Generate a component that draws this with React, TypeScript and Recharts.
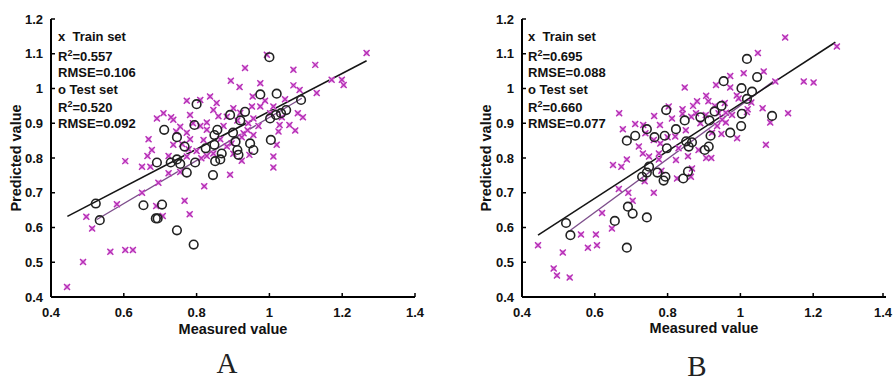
import { ScatterChart, Scatter, XAxis, YAxis, ReferenceLine } from 'recharts';

// measured vs predicted, panel A
const trainA = [
  [1.267, 1.102], [1.126, 1.068], [1.199, 1.025], [1.204, 1.01], [1.171, 1.025], [1.13, 0.987],
  [1.066, 1.054], [1.066, 1.009], [1.083, 0.996], [1.092, 0.917], [1.078, 0.929], [1.071, 0.879],
  [1.055, 0.895], [1.043, 0.969], [0.993, 1.097], [0.933, 1.059], [0.894, 1.022], [0.918, 1.004],
  [0.975, 1.015], [0.954, 0.977], [0.988, 0.965], [0.837, 0.977], [0.81, 0.967], [0.773, 0.965],
  [0.855, 0.958], [0.952, 0.948], [0.975, 0.948], [0.901, 0.943], [0.846, 0.938], [0.782, 0.924],
  [0.691, 0.914], [0.709, 0.929], [0.73, 0.917], [0.736, 0.91], [0.755, 0.89], [0.744, 0.876],
  [0.773, 0.873], [0.81, 0.892], [0.828, 0.902], [0.828, 0.881], [0.874, 0.892], [0.883, 0.919],
  [0.912, 0.908], [0.942, 0.9], [0.956, 0.914], [0.97, 0.892], [0.929, 0.871], [0.956, 0.866],
  [0.924, 0.86], [0.896, 0.842], [0.883, 0.833], [0.865, 0.854], [0.819, 0.852], [0.782, 0.854],
  [0.736, 0.838], [0.778, 0.825], [0.828, 0.806], [0.846, 0.813], [0.901, 0.812], [0.945, 0.809],
  [0.924, 0.792], [0.813, 0.799], [0.773, 0.804], [0.723, 0.806], [0.665, 0.806], [0.677, 0.823],
  [0.668, 0.854], [0.604, 0.791], [0.65, 0.775], [0.673, 0.775], [0.723, 0.756], [0.755, 0.76],
  [0.695, 0.729], [0.65, 0.7], [0.892, 0.752], [0.821, 0.719], [0.767, 0.677], [0.781, 0.638],
  [0.689, 0.662], [0.707, 0.633], [0.581, 0.667], [0.497, 0.631], [0.513, 0.597], [0.563, 0.53],
  [0.604, 0.535], [0.625, 0.535], [0.488, 0.501], [0.444, 0.429], [1.011, 0.804], [1.011, 0.773],
  [1.02, 0.838], [1.025, 0.876], [1.028, 0.895], [1.034, 0.917], [1.002, 0.929], [1.011, 0.948],
  [0.76, 0.84], [0.79, 0.9], [0.86, 0.92], [0.92, 0.93], [0.94, 0.88], [0.8, 0.82],
].map(([x, y]) => ({ x, y }));

const testA = [
  [1.0, 1.09], [1.02, 0.985], [0.975, 0.983], [1.087, 0.967], [0.8, 0.955], [0.933, 0.933],
  [1.046, 0.938], [1.032, 0.929], [1.018, 0.924], [1.002, 0.914], [0.892, 0.924], [0.92, 0.908],
  [0.794, 0.895], [0.711, 0.881], [0.857, 0.881], [0.746, 0.86], [0.849, 0.866], [0.9, 0.873],
  [0.907, 0.847], [0.947, 0.842], [0.767, 0.833], [0.849, 0.838], [0.825, 0.828], [0.912, 0.823],
  [0.956, 0.823], [1.004, 0.852], [0.869, 0.813], [0.915, 0.809], [0.851, 0.791], [0.865, 0.796],
  [0.796, 0.787], [0.691, 0.787], [0.729, 0.787], [0.755, 0.783], [0.746, 0.796], [0.773, 0.758],
  [0.845, 0.751], [0.523, 0.669], [0.654, 0.664], [0.705, 0.666], [0.688, 0.626], [0.693, 0.626],
  [0.534, 0.621], [0.746, 0.592], [0.792, 0.551],
].map(([x, y]) => ({ x, y }));

// panel B
const trainB = [
  [1.123, 1.147], [1.048, 1.102], [1.265, 1.121], [1.174, 1.02], [1.201, 1.017], [1.096, 1.02],
  [1.064, 1.049], [1.009, 1.044], [0.972, 1.036], [0.933, 1.01], [0.847, 1.003], [1.131, 0.929],
  [1.082, 0.902], [1.07, 0.838], [1.061, 0.943], [1.018, 0.932], [0.991, 0.857], [0.995, 0.971],
  [0.972, 1.003], [0.906, 0.979], [0.912, 0.963], [0.881, 0.963], [0.957, 0.958], [0.878, 0.929],
  [0.841, 0.94], [0.803, 0.948], [0.812, 0.914], [0.841, 0.927], [0.865, 0.919], [0.905, 0.924],
  [0.94, 0.929], [0.977, 0.924], [0.96, 0.902], [0.936, 0.892], [0.922, 0.873], [0.948, 0.869],
  [0.667, 0.929], [0.711, 0.898], [0.733, 0.895], [0.763, 0.921], [0.779, 0.895], [0.739, 0.871],
  [0.762, 0.852], [0.78, 0.842], [0.721, 0.833], [0.732, 0.813], [0.749, 0.804], [0.776, 0.813],
  [0.776, 0.796], [0.821, 0.862], [0.83, 0.828], [0.823, 0.794], [0.856, 0.805], [0.885, 0.823],
  [0.906, 0.8], [0.92, 0.8], [0.688, 0.796], [0.673, 0.775], [0.65, 0.78], [0.677, 0.883],
  [0.783, 0.763], [0.867, 0.77], [0.826, 0.741], [0.864, 0.746], [0.737, 0.733], [0.666, 0.711],
  [0.692, 0.7], [0.762, 0.7], [0.704, 0.677], [0.62, 0.642], [0.647, 0.597], [0.562, 0.58],
  [0.603, 0.58], [0.606, 0.549], [0.581, 0.542], [0.444, 0.549], [0.512, 0.528], [0.487, 0.482],
  [0.496, 0.462], [0.531, 0.456], [0.93, 0.95], [0.96, 0.93], [0.89, 0.9], [0.85, 0.88],
  [0.8, 0.86], [0.87, 0.95], [0.99, 0.98], [1.03, 0.96], [1.02, 0.94], [0.95, 0.91],
].map(([x, y]) => ({ x, y }));

const testB = [
  [1.018, 1.085], [1.046, 1.033], [0.954, 1.021], [1.003, 1.001], [1.032, 0.991], [1.018, 0.97],
  [0.948, 0.95], [0.929, 0.934], [0.796, 0.938], [0.89, 0.917], [0.915, 0.908], [1.004, 0.927],
  [1.002, 0.892], [1.087, 0.921], [0.972, 0.873], [0.847, 0.908], [0.823, 0.883], [0.743, 0.883],
  [0.711, 0.864], [0.764, 0.86], [0.792, 0.864], [0.688, 0.85], [0.851, 0.848], [0.867, 0.845],
  [0.858, 0.833], [0.798, 0.828], [0.918, 0.864], [0.913, 0.833], [0.902, 0.823], [0.749, 0.775],
  [0.743, 0.758], [0.73, 0.746], [0.772, 0.758], [0.794, 0.746], [0.789, 0.735], [0.856, 0.761],
  [0.843, 0.741], [0.521, 0.613], [0.533, 0.578], [0.655, 0.619], [0.691, 0.66], [0.704, 0.64],
  [0.743, 0.629], [0.688, 0.542],
].map(([x, y]) => ({ x, y }));

// fit lines (train = black, test = purple)
const fitTrainA = [{ x: 0.445, y: 0.632 }, { x: 1.267, y: 1.08 }];
const fitTestA = [{ x: 0.526, y: 0.623 }, { x: 1.089, y: 0.972 }];
const fitTrainB = [{ x: 0.444, y: 0.578 }, { x: 1.261, y: 1.133 }];
const fitTestB = [{ x: 0.533, y: 0.592 }, { x: 1.096, y: 1.025 }];

const xTicks = [0.4, 0.6, 0.8, 1, 1.2, 1.4];
const yTicks = [0.4, 0.5, 0.6, 0.7, 0.8, 0.9, 1, 1.1, 1.2];

const statsA = { trainR2: '0.557', trainRmse: '0.106', testR2: '0.520', testRmse: '0.092' };
const statsB = { trainR2: '0.695', trainRmse: '0.088', testR2: '0.660', testRmse: '0.077' };

const FONT = '"Liberation Sans", Arial, sans-serif';
const fmt = (v: number) => String(Math.round(v * 10) / 10);

const YTick = ({ x, y, payload }: any) => (
  <g>
    <line x1={x + 8} x2={x + 12} y1={y} y2={y} stroke="#000" strokeWidth={1.5} />
    <text x={x} y={y} dy={4.5} textAnchor="end" fontFamily={FONT} fontWeight="bold" fontSize={13} fill="#111">
      {fmt(payload.value)}
    </text>
  </g>
);

const XTick = ({ x, y, payload }: any) => (
  <g>
    <line x1={x} x2={x} y1={y - 8} y2={y - 12} stroke="#000" strokeWidth={1.5} />
    <text x={x} y={y} dy={12} textAnchor="middle" fontFamily={FONT} fontWeight="bold" fontSize={13} fill="#111">
      {fmt(payload.value)}
    </text>
  </g>
);

const TrainMark = ({ cx, cy }: any) => (
  <g>
    <rect x={cx - 2.5} y={cy - 2.5} width={5} height={5} fill="#eeb0ee" />
    <path
      d={`M${cx - 3},${cy - 3}L${cx + 3},${cy + 3}M${cx - 3},${cy + 3}L${cx + 3},${cy - 3}`}
      stroke="#b52fb5"
      strokeWidth={1.4}
    />
  </g>
);

const TestMark = ({ cx, cy }: any) => (
  <circle cx={cx} cy={cy} r={4.3} fill="none" stroke="#222" strokeWidth={1.6} />
);

function Panel({ train, test, fitTrain, fitTest, yAxisW, right, xLabelOff, yLabelOff }: any) {
  const chartW = 445 + (right ? 3 : 0);
  return (
    <ScatterChart width={chartW} height={381} margin={{ top: 19, right: right ? 7 : 30, left: 0, bottom: 0 }}>
      <XAxis
        type="number"
        dataKey="x"
        domain={[0.4, 1.4]}
        ticks={xTicks}
        tickSize={0}
        tickMargin={8}
        tick={<XTick />}
        tickLine={false}
        axisLine={{ stroke: '#000', strokeWidth: 2 }}
        height={84}
        allowDataOverflow
        label={{
          value: 'Measured value',
          position: 'insideTop',
          offset: xLabelOff,
          style: { fontFamily: FONT, fontWeight: 'bold', fontSize: 14.5, fill: '#111' },
        }}
      />
      <YAxis
        type="number"
        dataKey="y"
        domain={[0.4, 1.2]}
        ticks={yTicks}
        tickSize={0}
        tickMargin={8}
        tick={<YTick />}
        tickLine={false}
        axisLine={{ stroke: '#000', strokeWidth: 2 }}
        width={yAxisW}
        allowDataOverflow
        label={{
          value: 'Predicted value',
          angle: -90,
          position: 'insideLeft',
          offset: yLabelOff,
          style: { fontFamily: FONT, fontWeight: 'bold', fontSize: 14.5, fill: '#111', textAnchor: 'middle' },
        }}
      />
      <Scatter data={train} shape={<TrainMark />} isAnimationActive={false} />
      <Scatter data={test} shape={<TestMark />} isAnimationActive={false} />
      <ReferenceLine segment={fitTest} stroke="#7e4f8c" strokeWidth={1.4} ifOverflow="visible" />
      <ReferenceLine segment={fitTrain} stroke="#151515" strokeWidth={1.6} ifOverflow="visible" />
    </ScatterChart>
  );
}

function Stats({ left, s }: any) {
  const base: any = {
    position: 'absolute',
    left,
    fontFamily: FONT,
    fontWeight: 'bold',
    fontSize: 13,
    color: '#111',
    whiteSpace: 'pre',
    lineHeight: '15px',
  };
  const sup = <span style={{ fontSize: 9, position: 'relative', top: -5 }}>2</span>;
  return (
    <>
      <div style={{ ...base, top: 29 }}>{'x  Train set'}</div>
      <div style={{ ...base, top: 49 }}>R{sup}={s.trainR2}</div>
      <div style={{ ...base, top: 65 }}>RMSE={s.trainRmse}</div>
      <div style={{ ...base, top: 82 }}>o Test set</div>
      <div style={{ ...base, top: 100 }}>R{sup}={s.testR2}</div>
      <div style={{ ...base, top: 116 }}>RMSE={s.testRmse}</div>
    </>
  );
}

export default function App() {
  const letter: any = {
    position: 'absolute',
    fontFamily: '"Liberation Serif", "Times New Roman", serif',
    fontSize: 29,
    color: '#222',
    transform: 'translateX(-50%)',
    lineHeight: '29px',
  };
  return (
    <div style={{ position: 'fixed', left: 0, top: 0, width: 893, height: 381, background: '#fff', overflow: 'hidden' }}>
      <div style={{ position: 'absolute', left: 0, top: 0 }}>
        <Panel train={trainA} test={testA} fitTrain={fitTrainA} fitTest={fitTestA} yAxisW={51} xLabelOff={27} yLabelOff={16} />
      </div>
      <div style={{ position: 'absolute', left: 445, top: 0 }}>
        <Panel train={trainB} test={testB} fitTrain={fitTrainB} fitTest={fitTestB} yAxisW={77} right xLabelOff={26} yLabelOff={41} />
      </div>
      <Stats left={58} s={statsA} />
      <Stats left={528} s={statsB} />
      <div style={{ ...letter, left: 227, top: 349 }}>A</div>
      <div style={{ ...letter, left: 697, top: 352 }}>B</div>
    </div>
  );
}
